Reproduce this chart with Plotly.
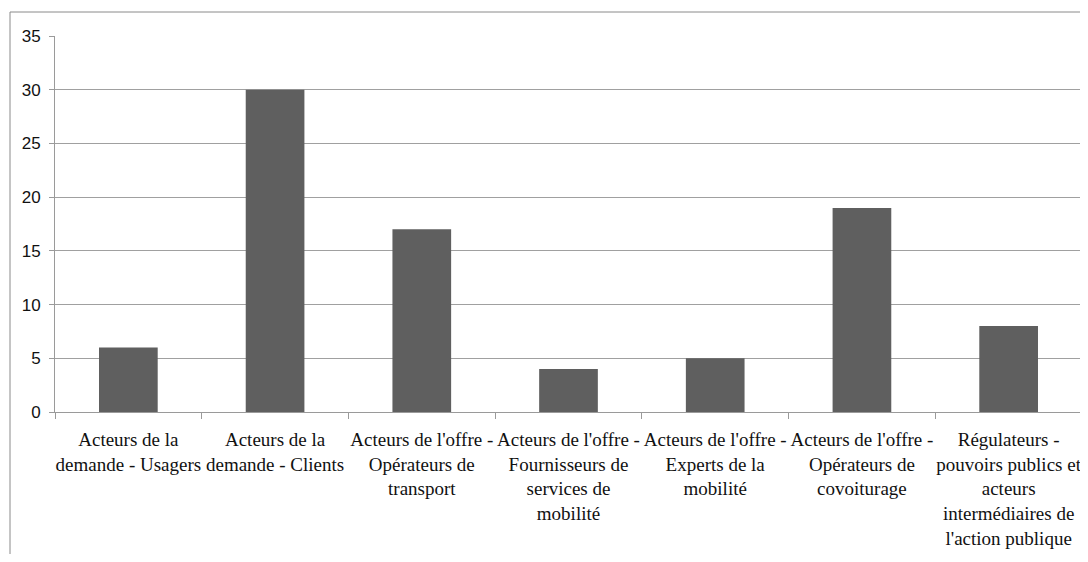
import plotly.graph_objects as go

categories = [
    "Acteurs de la<br>demande - Usagers",
    "Acteurs de la<br>demande - Clients",
    "Acteurs de l'offre -<br>Opérateurs de<br>transport",
    "Acteurs de l'offre -<br>Fournisseurs de<br>services de<br>mobilité",
    "Acteurs de l'offre -<br>Experts de la<br>mobilité",
    "Acteurs de l'offre -<br>Opérateurs de<br>covoiturage",
    "Régulateurs -<br>pouvoirs publics et<br>acteurs<br>intermédiaires de<br>l'action publique",
]
values = [6, 30, 17, 4, 5, 19, 8]
y_ticks = [0, 5, 10, 15, 20, 25, 30, 35]

fig = go.Figure()
fig.add_trace(go.Bar(
    x=categories, y=values,
    marker=dict(color="#5f5f5f", line=dict(width=0)),
    width=0.4,
))

# page body has an 8px default margin; size the figure to fit the window
fig.update_layout(
    width=1080, height=546,
    margin=dict(l=47, r=6, t=28, b=142, autoexpand=False),
    plot_bgcolor="white", paper_bgcolor="white",
    showlegend=False,
    bargap=0.6,
)
fig.update_xaxes(
    type="category", automargin=False,
    showline=True, linecolor="#9a9a9a", linewidth=1,
    ticks="outside", tickson="boundaries", ticklen=6, tickcolor="#9a9a9a",
    tickfont=dict(family="Liberation Serif", size=19, color="#111111"),
    tickangle=0,
    showgrid=False,
    ticklabelstandoff=10,
)
fig.update_yaxes(
    range=[0, 35], automargin=False,
    tickvals=y_ticks,
    showline=True, linecolor="#9a9a9a", linewidth=1,
    ticks="outside", ticklen=5, tickcolor="#9a9a9a",
    tickfont=dict(family="Liberation Sans", size=17, color="#111111"),
    showgrid=True, gridcolor="#a0a0a0", gridwidth=1,
    zeroline=False,
    ticklabelstandoff=5,
)
# outer chart border (extends beyond the visible image on right/bottom)
fig.add_shape(
    type="rect", xref="paper", yref="paper",
    x0=-45 / 1027, x1=1.1,
    y0=-1.0, y1=400 / 376,
    line=dict(color="#8a8a8a", width=1),
    layer="below",
)

fig.write_html("out.html")
